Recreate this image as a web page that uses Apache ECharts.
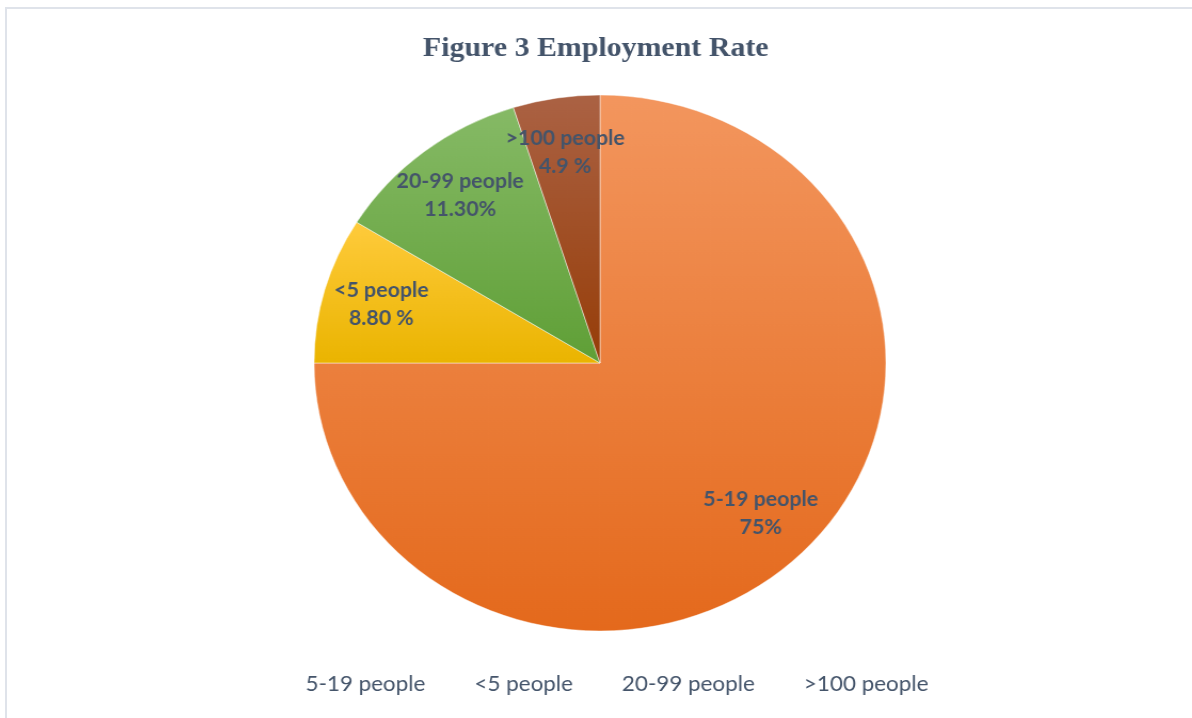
<!DOCTYPE html>
<html>
<head>
<meta charset="utf-8">
<script src="https://cdn.jsdelivr.net/npm/echarts@6/dist/echarts.min.js"></script>
<style>
  html, body { margin: 0; padding: 0; background: #fff; }
  #frame {
    position: absolute; left: 5px; top: 7px; width: 1187px; height: 711px;
    border-top: 2px solid #dfe3ea; border-left: 2px solid #dfe3ea;
    box-sizing: border-box;
  }
  /* the original figure is stretched a little sideways */
  #main {
    position: absolute; left: 0; top: 0; width: 1192px; height: 718px;
    transform: scaleX(1.067); transform-origin: 600px 0;
  }
</style>
</head>
<body>
<div id="frame"></div>
<div id="main"></div>
<script>
var categories = ['5-19 people', '<5 people', '20-99 people', '>100 people']
var values = [75, 8.8, 11.3, 4.9]
var valueLabels = ['75%', '8.80 %', '11.30%', '4.9 %']

// top / bottom of each slice gradient
var colorsTop = ['#f3965e', '#ffcb3c', '#86ba66', '#ab6244']
var colorsBottom = ['#e4691c', '#eab400', '#5f9f36', '#963d08']

var chart = echarts.init(document.getElementById('main'))

var pieData = categories.map(function (name, i) {
  return {
    name: name,
    value: values[i],
    itemStyle: {
      color: new echarts.graphic.LinearGradient(0, 0, 0, 1, [
        { offset: 0, color: colorsTop[i] },
        { offset: 1, color: colorsBottom[i] }
      ])
    }
  }
})

var option = {
  animation: false,
  title: {
    text: 'Figure 3 Employment Rate',
    left: 'center',
    top: 30,
    textStyle: {
      fontFamily: 'Liberation Serif',
      fontWeight: 'bold',
      fontSize: 28,
      color: '#44546a'
    }
  },
  legend: {
    data: categories,
    left: 314,
    top: 669,
    icon: 'none',
    itemWidth: 0,
    itemGap: 41,
    textStyle: {
      fontFamily: 'Lato',
      fontSize: 21,
      color: '#44546a'
    }
  },
  series: [
    {
      type: 'pie',
      center: [600, 363],
      radius: [0, 268],
      startAngle: 90,
      clockwise: true,
      label: { show: false },
      labelLine: { show: false },
      itemStyle: { borderColor: 'rgba(255,255,255,0.45)', borderWidth: 1 },
      emphasis: { disabled: true },
      data: pieData
    },
    {
      // invisible ring, only used to place the labels out near the rim
      type: 'pie',
      center: [600, 363],
      radius: [152, 268],
      startAngle: 90,
      clockwise: true,
      silent: true,
      avoidLabelOverlap: false,
      itemStyle: { color: 'rgba(0,0,0,0)' },
      emphasis: { disabled: true },
      labelLine: { show: false },
      labelLayout: { hideOverlap: false },
      label: {
        show: true,
        position: 'inside',
        fontFamily: 'Lato',
        fontWeight: 'bold',
        fontSize: 20,
        lineHeight: 28,
        color: '#44546a',
        formatter: function (p) {
          return p.name + '\n' + valueLabels[p.dataIndex]
        }
      },
      data: categories.map(function (name, i) {
        return { name: name, value: values[i] }
      })
    }
  ]
}

chart.setOption(option)
</script>
</body>
</html>
